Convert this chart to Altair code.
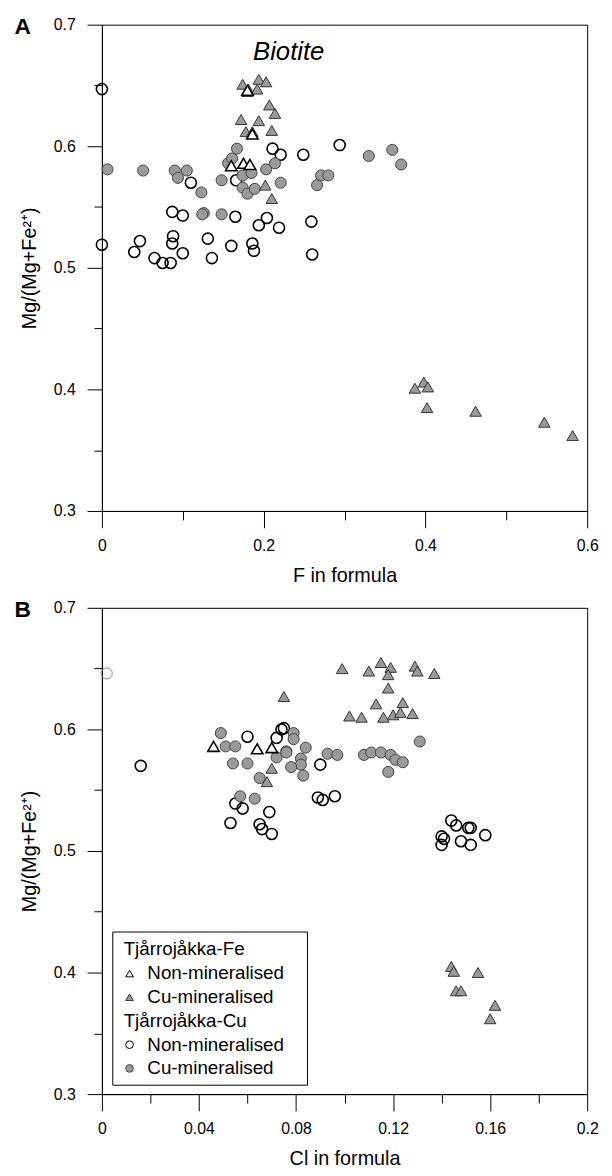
import altair as alt
import pandas as pd

# ---------------- Panel A (F in formula) ----------------
a_fe_non_x = [0.160, 0.175, 0.183, 0.180, 0.186]
a_fe_non_y = [0.584, 0.586, 0.585, 0.646, 0.610]

a_fe_cu_x = [0.174, 0.194, 0.203, 0.181, 0.180, 0.192, 0.207, 0.214, 0.172, 0.194, 0.210,
             0.178, 0.186, 0.202, 0.210, 0.398, 0.387, 0.403, 0.402, 0.462, 0.547, 0.582]
a_fe_cu_y = [0.651, 0.655, 0.653, 0.647, 0.645, 0.647, 0.634, 0.627, 0.622, 0.621, 0.613,
             0.612, 0.612, 0.568, 0.557, 0.406, 0.401, 0.402, 0.385, 0.382, 0.373, 0.362]

a_cu_non_x = [0.0, 0.0, 0.211, 0.221, 0.249, 0.294, 0.166, 0.165, 0.204, 0.194, 0.219, 0.259,
              0.131, 0.160, 0.186, 0.188, 0.136, 0.260, 0.040, 0.047, 0.065, 0.075, 0.085,
              0.087, 0.088, 0.087, 0.100, 0.100, 0.110]
a_cu_non_y = [0.647, 0.519, 0.598, 0.593, 0.593, 0.601, 0.572, 0.542, 0.541, 0.535, 0.533, 0.538,
              0.524, 0.518, 0.520, 0.514, 0.508, 0.511, 0.513, 0.522, 0.508, 0.504, 0.504,
              0.520, 0.526, 0.546, 0.512, 0.543, 0.570]

a_cu_cu_x = [0.007, 0.051, 0.090, 0.105, 0.094, 0.123, 0.126, 0.124, 0.148, 0.148, 0.156, 0.161,
             0.167, 0.174, 0.185, 0.174, 0.180, 0.189, 0.203, 0.214, 0.221, 0.266, 0.271,
             0.280, 0.330, 0.359, 0.370]
a_cu_cu_y = [0.581, 0.580, 0.580, 0.580, 0.574, 0.562, 0.545, 0.544, 0.544, 0.572, 0.586, 0.590,
             0.598, 0.576, 0.578, 0.566, 0.561, 0.565, 0.581, 0.586, 0.570, 0.568, 0.576,
             0.576, 0.592, 0.597, 0.585]

# ---------------- Panel B (Cl in formula) ----------------
b_fe_non_x = [0.046, 0.064, 0.070]
b_fe_non_y = [0.586, 0.584, 0.585]

b_fe_cu_x = [0.075, 0.099, 0.110, 0.115, 0.119, 0.118, 0.129, 0.130, 0.137, 0.118, 0.113, 0.124,
             0.102, 0.107, 0.116, 0.120, 0.123, 0.128, 0.068, 0.070, 0.144, 0.145, 0.146,
             0.148, 0.155, 0.160, 0.162]
b_fe_cu_y = [0.627, 0.650, 0.648, 0.655, 0.651, 0.645, 0.652, 0.648, 0.646, 0.634, 0.621, 0.622,
             0.611, 0.610, 0.610, 0.612, 0.614, 0.613, 0.557, 0.568, 0.405, 0.401, 0.385,
             0.385, 0.400, 0.362, 0.373]

b_cu_non_x = [0.016, 0.060, 0.074, 0.075, 0.072, 0.090, 0.089, 0.091, 0.096, 0.053, 0.055, 0.058,
              0.065, 0.066, 0.069, 0.070, 0.140, 0.140, 0.141, 0.144, 0.146, 0.148, 0.151,
              0.152, 0.152, 0.158]
b_cu_non_y = [0.570, 0.594, 0.600, 0.601, 0.593, 0.571, 0.544, 0.542, 0.545, 0.523, 0.539, 0.535,
              0.522, 0.518, 0.532, 0.514, 0.512, 0.505, 0.510, 0.525, 0.521, 0.508, 0.519,
              0.519, 0.505, 0.513]

b_faint_x = [0.002]
b_faint_y = [0.646]

b_cu_cu_x = [0.049, 0.051, 0.055, 0.054, 0.060, 0.072, 0.076, 0.079, 0.079, 0.084, 0.076, 0.082,
             0.082, 0.078, 0.083, 0.093, 0.097, 0.108, 0.111, 0.115, 0.119, 0.121, 0.124,
             0.131, 0.118, 0.057, 0.063, 0.065]
b_cu_cu_y = [0.597, 0.586, 0.586, 0.572, 0.572, 0.577, 0.582, 0.597, 0.592, 0.585, 0.581, 0.576,
             0.571, 0.569, 0.562, 0.580, 0.579, 0.579, 0.581, 0.581, 0.579, 0.575, 0.573,
             0.590, 0.565, 0.545, 0.543, 0.560]

# axis tick values
a_x_ticks = [0.0, 0.1, 0.2, 0.3, 0.4, 0.5, 0.6]
b_x_ticks = [0.0, 0.02, 0.04, 0.06, 0.08, 0.10, 0.12, 0.14, 0.16, 0.18, 0.20]
y_ticks = [0.3, 0.35, 0.4, 0.45, 0.5, 0.55, 0.6, 0.65, 0.7]

legend_lines = ["Tjårrojåkka-Fe", "Non-mineralised", "Cu-mineralised",
                "Tjårrojåkka-Cu", "Non-mineralised", "Cu-mineralised"]

FONT = "Liberation Sans"
W, H = 491, 492
GREY = "#9a9a9a"


def df(xs, ys):
    return pd.DataFrame({"x": xs, "y": ys})


def major_test(k):
    return f"abs(datum.value*{k} - round(datum.value*{k})) < 1e-6"


AX = dict(grid=False, domainColor="black", domainWidth=1, tickColor="black", tickWidth=1,
          labelFont=FONT, labelFontSize=16, labelColor="black",
          titleFont=FONT, titleFontSize=20, titleFontWeight="normal", titleColor="black")


def x_axis(ticks, k, title):
    return alt.Axis(values=ticks, title=title,
                    labelExpr=f"{major_test(k)} ? format(datum.value, '~g') : ''",
                    tickSize={"condition": {"test": major_test(k), "value": 17}, "value": 9},
                    labelPadding=10, titlePadding=12, labelFlush=False, **AX)


y_axis = alt.Axis(values=y_ticks, title="Mg/(Mg+Fe²⁺)",
                  labelExpr=f"{major_test(10)} ? format(datum.value, '.1f') : ''",
                  tickSize={"condition": {"test": major_test(10), "value": 15}, "value": 8},
                  labelPadding=12, titlePadding=14, labelFlush=False, **AX)


def panel(xdom, xticks, k, xtitle, fe_non, fe_cu, cu_non, cu_cu, letter, extra=None):
    xs = alt.Scale(domain=xdom, nice=False, zero=False)
    ys = alt.Scale(domain=[0.3, 0.7], nice=False, zero=False)

    def enc(ch):
        return ch.encode(x=alt.X("x:Q", scale=xs, axis=x_axis(xticks, k, xtitle)),
                         y=alt.Y("y:Q", scale=ys, axis=y_axis))

    layers = []
    layers.append(enc(alt.Chart(df(*cu_non)).mark_point(
        shape="circle", size=125, filled=False, stroke="black", strokeWidth=1.6, opacity=1)))
    layers.append(enc(alt.Chart(df(*cu_cu)).mark_point(
        shape="circle", size=125, filled=True, fill=GREY, stroke="#444444", strokeWidth=1, opacity=1)))
    layers.append(enc(alt.Chart(df(*fe_cu)).mark_point(
        shape="triangle-up", size=135, filled=True, fill=GREY, stroke="#333333", strokeWidth=1, opacity=1)))
    layers.append(enc(alt.Chart(df(*fe_non)).mark_point(
        shape="triangle-up", size=135, filled=True, fill="white", stroke="black", strokeWidth=1.6, opacity=1)))
    if extra is not None:
        layers.append(enc(alt.Chart(df(*extra)).mark_point(
            shape="circle", size=125, filled=False, stroke="#888888", strokeWidth=1, opacity=1)))
    layers.append(alt.Chart(pd.DataFrame({"t": [letter]})).mark_text(
        font=FONT, fontSize=23, fontWeight="bold", align="center", baseline="middle", color="black"
    ).encode(x=alt.value(-80), y=alt.value(2), text="t:N"))
    return layers


layA = panel([0, 0.6], a_x_ticks, 5, "F in formula",
             (a_fe_non_x, a_fe_non_y), (a_fe_cu_x, a_fe_cu_y),
             (a_cu_non_x, a_cu_non_y), (a_cu_cu_x, a_cu_cu_y), "A")
layA.append(alt.Chart(pd.DataFrame({"t": ["Biotite"]})).mark_text(
    font=FONT, fontSize=26, fontStyle="italic", align="center", baseline="middle", color="black"
).encode(x=alt.value(189), y=alt.value(28), text="t:N"))

layB = panel([0, 0.2], b_x_ticks, 25, "Cl in formula",
             (b_fe_non_x, b_fe_non_y), (b_fe_cu_x, b_fe_cu_y),
             (b_cu_non_x, b_cu_non_y), (b_cu_cu_x, b_cu_cu_y), "B",
             extra=(b_faint_x, b_faint_y))

# legend box (panel B)
leg_box = alt.Chart(pd.DataFrame({"a": [0]})).mark_rect(
    fill="white", stroke="black", strokeWidth=1
).encode(x=alt.value(11), x2=alt.value(208), y=alt.value(328), y2=alt.value(483))
layB.append(leg_box)
row_y = [345, 370, 394, 418, 442, 466]
row_x = [22, 46, 46, 22, 46, 46]
for i, txt in enumerate(legend_lines):
    layB.append(alt.Chart(pd.DataFrame({"t": [txt]})).mark_text(
        font=FONT, fontSize=19, align="left", baseline="middle", color="black"
    ).encode(x=alt.value(row_x[i]), y=alt.value(row_y[i]), text="t:N"))
sym_specs = [(1, "triangle-up", "white", "black"), (2, "triangle-up", GREY, "#333333"),
             (4, "circle", "white", "black"), (5, "circle", GREY, "#444444")]
for r, shp, fl, st in sym_specs:
    layB.append(alt.Chart(pd.DataFrame({"a": [0]})).mark_point(
        shape=shp, size=60, filled=True, fill=fl, stroke=st, strokeWidth=1, opacity=1
    ).encode(x=alt.value(28), y=alt.value(row_y[r])))

chartA = alt.layer(*layA).properties(width=W, height=H)
chartB = alt.layer(*layB).properties(width=W, height=H)

chart = alt.vconcat(chartA, chartB, spacing=12).properties(
    padding={"left": 6, "top": 0, "right": 5, "bottom": 2},
    background="white"
).configure_view(
    stroke="black", strokeWidth=1
).configure_axis(**AX)

chart.save("out.html", embed_options={"renderer": "svg", "actions": False})
